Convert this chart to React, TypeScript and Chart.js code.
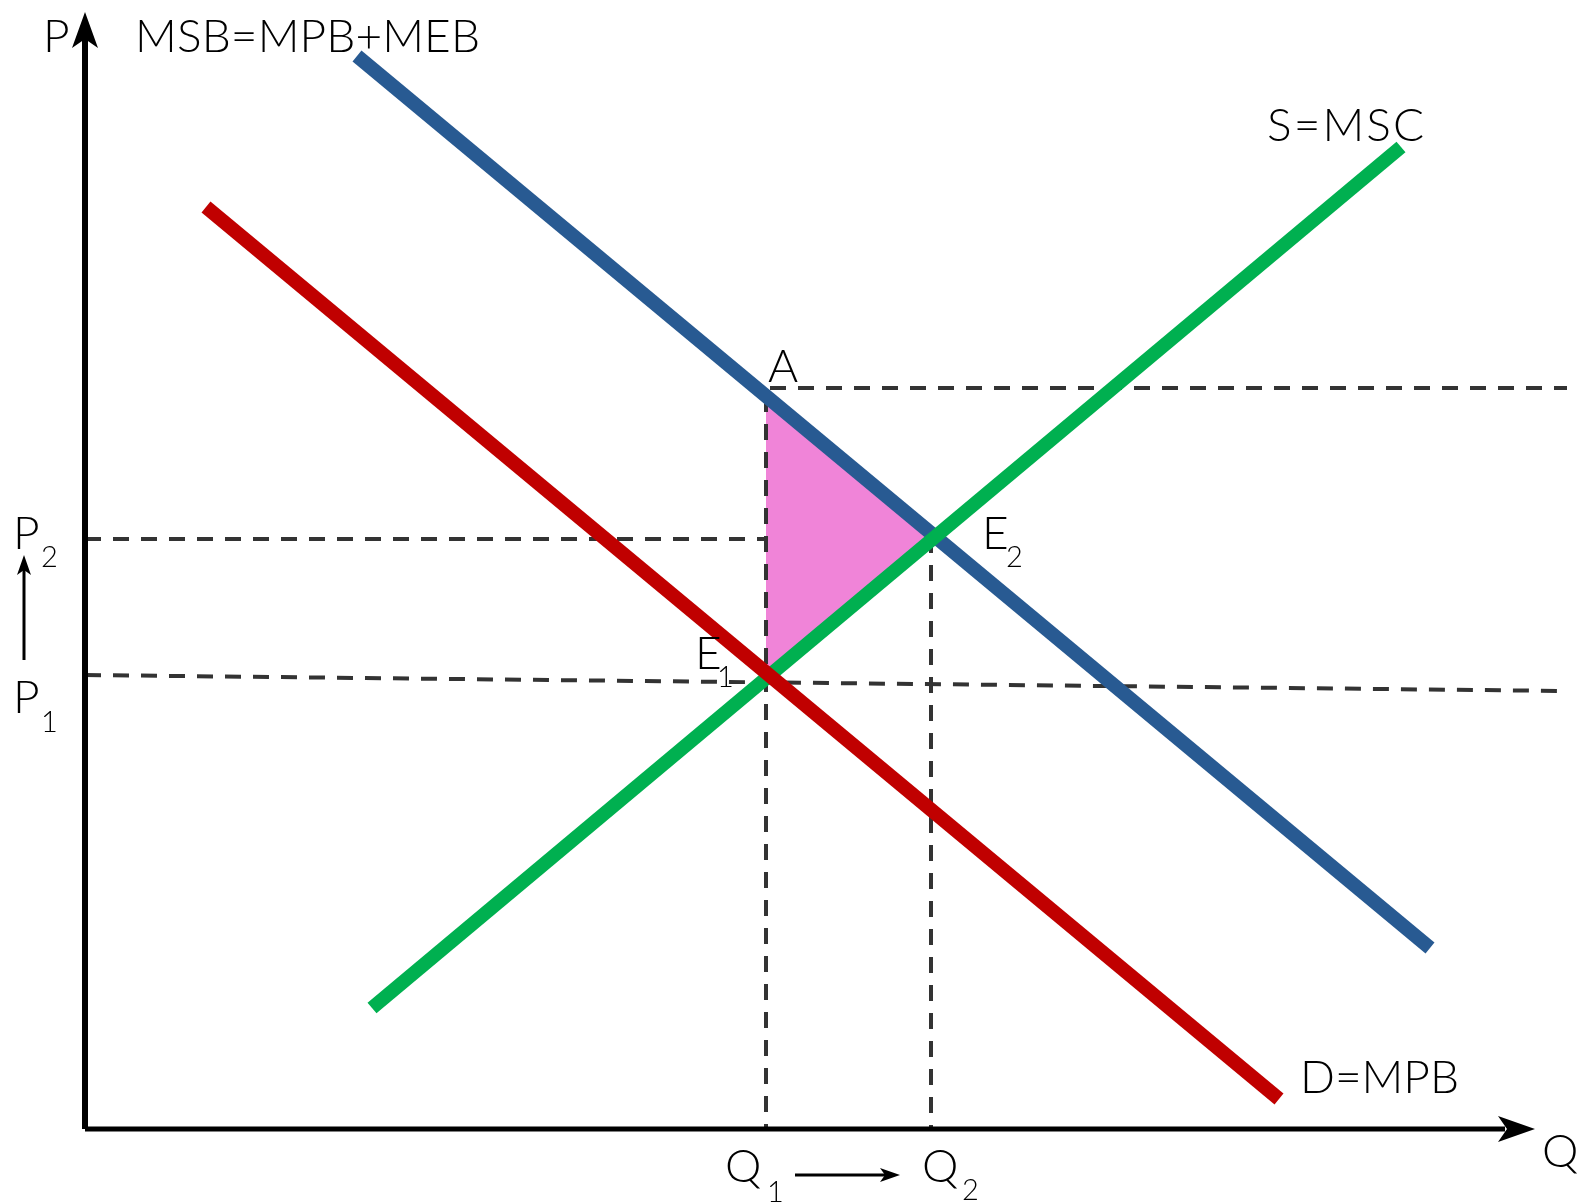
import React, { useEffect, useRef } from "react";
import { Chart, registerables } from "chart.js";

Chart.register(...registerables);

// Curves (quantity on x, price on y)
const msbQ = [272, 1345];
const msbP = [1073, 181];
const mpbQ = [121, 1194];
const mpbP = [922, 30];
const mscQ = [287, 1316];
const mscP = [121, 982];

// Welfare-gain triangle (A, E1, E2)
const gainQ = [681, 681, 850, 681];
const gainP = [733, 451, 592, 733];

// Guide lines
const guideAQ = [685, 1482];
const guideAP = [741, 741];
const guideP2Q = [0, 681];
const guideP2P = [590, 590];
const guideP1Q = [0, 1482];
const guideP1P = [454, 438];
const guideQ1Q = [681, 681];
const guideQ1P = [733, 0];
const guideQ2Q = [846, 846];
const guideQ2P = [592, 0];

// Axes
const axisYQ = [0, 0];
const axisYP = [0, 1092];
const axisXQ = [0, 1420];
const axisXP = [0, 0];

const pts = (xs: number[], ys: number[]) => xs.map((x, i) => ({ x, y: ys[i] }));

type Label = { text: string; x: number; y: number; size: number; width?: number };
const labels: Label[] = [
  { text: "P", x: -42, y: 1077, size: 46 },
  { text: "MSB=MPB+MEB", x: 50, y: 1077, size: 46, width: 345 },
  { text: "S=MSC", x: 1182, y: 988, size: 46, width: 157 },
  { text: "A", x: 683, y: 747, size: 46 },
  { text: "E", x: 897, y: 580, size: 46 },
  { text: "2", x: 921, y: 562, size: 29 },
  { text: "E", x: 610, y: 460, size: 46 },
  { text: "1", x: 632, y: 442, size: 29 },
  { text: "P", x: -72, y: 580, size: 46 },
  { text: "2", x: -44, y: 562, size: 29 },
  { text: "P", x: -72, y: 416, size: 46 },
  { text: "1", x: -44, y: 397, size: 29 },
  { text: "Q", x: 640, y: -53, size: 46 },
  { text: "1", x: 682, y: -73, size: 29 },
  { text: "Q", x: 837, y: -53, size: 46 },
  { text: "2", x: 877, y: -71, size: 29 },
  { text: "Q", x: 1457, y: -38, size: 46 },
  { text: "D=MPB", x: 1215, y: 36, size: 46, width: 159 },
];

const FONT = "Lato, 'Noto Sans', sans-serif";

const annotate = {
  id: "annotate",
  afterDatasetsDraw(chart: any) {
    const ctx: CanvasRenderingContext2D = chart.ctx;
    const sx = chart.scales.x;
    const sy = chart.scales.y;
    const X = (v: number) => sx.getPixelForValue(v);
    const Y = (v: number) => sy.getPixelForValue(v);
    ctx.save();
    ctx.fillStyle = "#000";
    ctx.strokeStyle = "#000";

    // notched arrow head
    const head = (tx: number, ty: number, dx: number, dy: number, len: number, hw: number, notch: number) => {
      const px = -dy, py = dx;
      const bx = tx - dx * len, by = ty - dy * len;
      ctx.beginPath();
      ctx.moveTo(tx, ty);
      ctx.lineTo(bx + px * hw, by + py * hw);
      ctx.lineTo(tx - dx * (len - notch), ty - dy * (len - notch));
      ctx.lineTo(bx - px * hw, by - py * hw);
      ctx.closePath();
      ctx.fill();
    };
    // main axes arrows
    head(X(0), Y(1117), 0, -1, 36, 13, 9);
    head(X(1450), Y(0), 1, 0, 37, 13, 9);

    // small shift arrows
    ctx.lineWidth = 3;
    ctx.beginPath();
    ctx.moveTo(X(-61), Y(469));
    ctx.lineTo(X(-61), Y(560));
    ctx.stroke();
    head(X(-61), Y(574), 0, -1, 20, 7, 5);
    ctx.beginPath();
    ctx.moveTo(X(710), Y(-46));
    ctx.lineTo(X(800), Y(-46));
    ctx.stroke();
    head(X(815), Y(-46), 1, 0, 20, 7, 5);

    // text labels
    ctx.textBaseline = "alphabetic";
    ctx.textAlign = "left";
    for (const l of labels) {
      ctx.font = `300 ${l.size}px ${FONT}`;
      (ctx as any).letterSpacing = "0px";
      if (l.width && l.text.length > 1) {
        const w0 = ctx.measureText(l.text).width;
        const s = (l.width - w0) / (l.text.length - 1);
        (ctx as any).letterSpacing = `${s}px`;
      }
      ctx.fillText(l.text, X(l.x), Y(l.y));
    }
    (ctx as any).letterSpacing = "0px";
    ctx.restore();
  },
};

export default function App() {
  const ref = useRef<HTMLCanvasElement | null>(null);
  useEffect(() => {
    document.body.style.margin = "0";
    document.body.style.overflow = "hidden";
    const canvas = ref.current!;
    const line = (xs: number[], ys: number[], color: string, width: number, order: number, dash: number[] = []) => ({
      data: pts(xs, ys),
      showLine: true,
      borderColor: color,
      borderWidth: width,
      borderDash: dash,
      borderCapStyle: "butt" as const,
      pointRadius: 0,
      fill: false,
      tension: 0,
      order,
    });
    const dash = [16, 12];
    const dashColor = "#333333";
    const chart = new Chart(canvas, {
      type: "scatter",
      data: {
        datasets: [
          line(axisYQ, axisYP, "#000000", 6, 0),
          line(axisXQ, axisXP, "#000000", 5, 0),
          line(mpbQ, mpbP, "#C00000", 14, 1),
          line(mscQ, mscP, "#00B050", 14, 1),
          line(msbQ, msbP, "#285A92", 14, 1),
          line(guideAQ, guideAP, dashColor, 4, 5, dash),
          line(guideP2Q, guideP2P, dashColor, 4, 5, dash),
          line(guideP1Q, guideP1P, dashColor, 4, 5, dash),
          line(guideQ1Q, guideQ1P, dashColor, 4, 5, dash),
          line(guideQ2Q, guideQ2P, dashColor, 4, 5, dash),
          {
            data: pts(gainQ, gainP),
            showLine: true,
            borderWidth: 0,
            borderColor: "rgba(0,0,0,0)",
            backgroundColor: "#F084D8",
            pointRadius: 0,
            fill: "shape",
            tension: 0,
            order: 10,
          } as any,
        ],
      },
      options: {
        responsive: false,
        animation: false,
        devicePixelRatio: 1,
        layout: { padding: 0 },
        plugins: { legend: { display: false }, tooltip: { enabled: false } },
        scales: {
          x: { type: "linear", min: -85, max: 1495, display: false },
          y: { type: "linear", min: -75, max: 1129, display: false },
        },
      },
      plugins: [annotate],
    });
    return () => chart.destroy();
  }, []);
  return (
    <div style={{ position: "fixed", left: 0, top: 0, width: 1580, height: 1204, background: "#fff" }}>
      <canvas ref={ref} width={1580} height={1204} style={{ display: "block" }} />
    </div>
  );
}
